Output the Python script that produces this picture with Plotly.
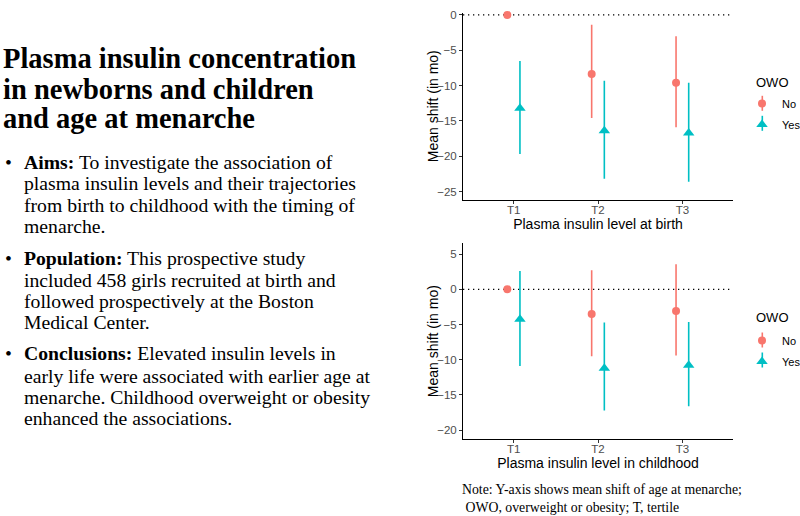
import plotly.graph_objects as go

W, H = 800, 516

tertiles = ["T1", "T2", "T3"]
groups = ["No", "Yes"]

birth_no = [0.0, -8.35, -9.6]
birth_no_lo = [0.0, -14.6, -15.9]
birth_no_hi = [0.0, -1.4, -3.0]
birth_yes = [-13.2, -16.4, -16.7]
birth_yes_lo = [-19.7, -23.2, -23.6]
birth_yes_hi = [-6.5, -9.3, -9.6]

child_no = [0.0, -3.5, -3.1]
child_no_lo = [0.0, -9.5, -9.4]
child_no_hi = [0.0, 2.7, 3.55]
child_yes = [-4.25, -11.2, -10.8]
child_yes_lo = [-10.9, -17.2, -16.6]
child_yes_hi = [2.6, -4.7, -4.65]

title_lines = ["Plasma insulin concentration", "in newborns and children", "and age at menarche"]
bullets = [
    ("Aims:", ["To investigate the association of", "plasma insulin levels and their trajectories",
               "from birth to childhood with the timing of", "menarche."]),
    ("Population:", ["This prospective study", "included 458 girls recruited at birth and",
                     "followed prospectively at the Boston", "Medical Center."]),
    ("Conclusions:", ["Elevated insulin levels in", "early life were associated with earlier age at",
                      "menarche. Childhood overweight or obesity", "enhanced the associations."]),
]
note_lines = ["Note: Y-axis shows mean shift of age at menarche;", " OWO, overweight or obesity; T, tertile"]
legend_title = "OWO"
y_title = "Mean shift (in mo)"

RED = "#F8766D"
CYAN = "#00BFC4"
dodge = 0.075


def py(p):
    return 1 - p / H


def px(p):
    return p / W


fig = go.Figure()

panels = [
    ("x", "y", "legend", birth_no, birth_no_lo, birth_no_hi, birth_yes, birth_yes_lo, birth_yes_hi),
    ("x2", "y2", "legend2", child_no, child_no_lo, child_no_hi, child_yes, child_yes_lo, child_yes_hi),
]
xpos = [1, 2, 3]
for xa, ya, lg, no, nolo, nohi, yes, yeslo, yeshi in panels:
    for name, vals, lo, hi, col, sym, sz, off in [
        ("No", no, nolo, nohi, RED, "circle", 8, -dodge),
        ("Yes", yes, yeslo, yeshi, CYAN, "triangle-up", 10, dodge),
    ]:
        fig.add_trace(go.Scatter(
            x=[v + off for v in xpos], y=vals, mode="markers", name=name,
            xaxis=xa, yaxis=ya, legend=lg, legendgroup=lg + name, cliponaxis=False,
            marker=dict(color=col, symbol=sym, size=sz, line=dict(width=0)),
            error_y=dict(type="data", symmetric=False,
                         array=[h - v for h, v in zip(hi, vals)],
                         arrayminus=[v - l for l, v in zip(lo, vals)],
                         color=col, thickness=1.6, width=0),
        ))

sans = "Liberation Sans, Arial, sans-serif"
axfont = dict(family=sans, size=11.5, color="#4D4D4D")
titlefont = dict(family=sans, size=14, color="#000000")
common_x = dict(range=[0.4, 3.6], tickvals=xpos, ticktext=tertiles, showline=True, linecolor="black",
                linewidth=1, ticks="outside", ticklen=3, tickcolor="#333333", showgrid=False,
                zeroline=False, tickfont=axfont, automargin=False, ticklabelstandoff=-4)
common_y = dict(showline=True, linecolor="black", linewidth=1, ticks="outside", ticklen=3,
                tickcolor="#333333", showgrid=False, zeroline=False, tickfont=axfont, automargin=False)
legfmt = dict(xanchor="left", yanchor="top", bgcolor="rgba(0,0,0,0)",
              font=dict(family=sans, size=11, color="black"),
              itemwidth=30, tracegroupgap=2)

top_dom = [py(200), py(12.5)]
bot_dom = [py(439.3), py(243)]

fig.update_layout(
    width=W, height=H, margin=dict(l=0, r=0, t=0, b=0, autoexpand=False),
    paper_bgcolor="white", plot_bgcolor="white",
    xaxis=dict(domain=[px(463), px(733)], anchor="y",
               title=dict(text="Plasma insulin level at birth", font=titlefont, standoff=0), **common_x),
    yaxis=dict(domain=top_dom, anchor="x", range=[-26.2, 0.35], tickvals=[0, -5, -10, -15, -20, -25], **common_y),
    xaxis2=dict(domain=[px(463), px(733)], anchor="y2",
                title=dict(text="Plasma insulin level in childhood", font=titlefont, standoff=0), **common_x),
    yaxis2=dict(domain=bot_dom, anchor="x2", range=[-21.3, 6.57], tickvals=[5, 0, -5, -10, -15, -20], **common_y),
    legend=dict(x=px(742), y=py(89), **legfmt),
    legend2=dict(x=px(742), y=py(326), **legfmt),
    showlegend=True,
)

# y-axis titles
for dom in (top_dom, bot_dom):
    fig.add_annotation(text=y_title, textangle=-90, x=px(433), y=(dom[0] + dom[1]) / 2,
                       xref="paper", yref="paper", xanchor="center", yanchor="middle",
                       showarrow=False, font=titlefont)

# dotted reference line at zero
for xr, yr in [("x domain", "y"), ("x2 domain", "y2")]:
    fig.add_shape(type="line", xref=xr, yref=yr, x0=0, x1=1, y0=0, y1=0,
                  line=dict(color="black", width=1.3, dash="1.3px,3.7px"), layer="below")

# legend titles and vertical error-bar strokes in the legend keys
for ty, (no_c, yes_c) in [(82.5, (103.3, 123.3)), (317.7, (340, 360))]:
    fig.add_annotation(text=legend_title, x=px(753.5), y=py(ty), xref="paper", yref="paper",
                       xanchor="left", yanchor="middle", showarrow=False,
                       font=dict(family=sans, size=13, color="black"))
    for c, col in [(no_c, RED), (yes_c, CYAN)]:
        fig.add_shape(type="line", xref="paper", yref="paper", x0=px(762.3), x1=px(762.3),
                      y0=py(c - 7.5), y1=py(c + 7.5), line=dict(color=col, width=1.6))

serif = "Liberation Serif, Times New Roman, serif"
# title
for i, (t, yc) in enumerate(zip(title_lines, [58.3, 89.5, 119])):
    fig.add_annotation(text=f"<b>{t}</b>", x=px(1), y=py(yc), xref="paper", yref="paper",
                       xanchor="left", yanchor="middle", showarrow=False,
                       font=dict(family=serif, size=28.5, color="black"))

bullet_y = [[161.7, 183.3, 204.5, 226], [258.3, 279.5, 300.5, 322], [353.3, 375.5, 396.7, 418.3]]
for (head, lines), ys in zip(bullets, bullet_y):
    fig.add_annotation(text="•", x=px(8.3), y=py(ys[0]), xref="paper", yref="paper",
                       xanchor="center", yanchor="middle", showarrow=False,
                       font=dict(family=serif, size=19.7, color="black"))
    for j, (ln, yc) in enumerate(zip(lines, ys)):
        txt = f"<b>{head}</b> {ln}" if j == 0 else ln
        fig.add_annotation(text=txt, x=px(21.5), y=py(yc), xref="paper", yref="paper",
                           xanchor="left", yanchor="middle", showarrow=False,
                           font=dict(family=serif, size=19.7, color="black"))

for ln, yc in zip(note_lines, [489, 507]):
    fig.add_annotation(text=ln, x=px(459.5), y=py(yc), xref="paper", yref="paper",
                       xanchor="left", yanchor="middle", showarrow=False,
                       font=dict(family=serif, size=13.8, color="black"))

fig.write_html("out.html", config={"displayModeBar": False},
               post_script="document.body.style.margin='0px';document.body.style.overflow='hidden';")
